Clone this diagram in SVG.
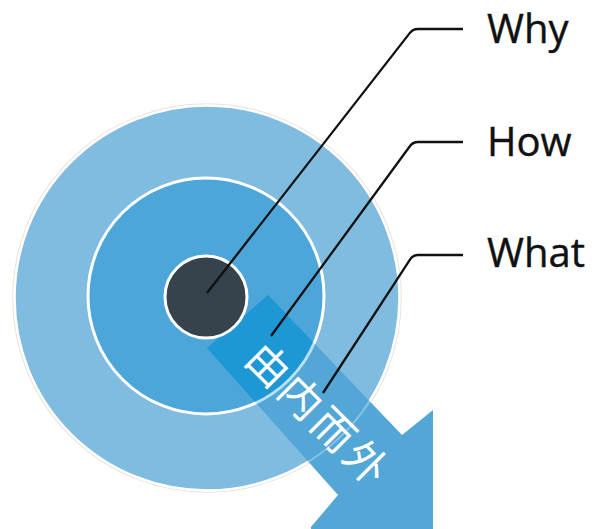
<svg xmlns="http://www.w3.org/2000/svg" width="598" height="529" viewBox="0 0 598 529">
  <style>
    .lbl { font-family: "Open Sans", "Liberation Sans", sans-serif; font-size: 40px; fill: #111111; stroke: #111111; stroke-width: 0.4px; }
    .lead { fill: none; stroke: #111111; stroke-width: 2.3; stroke-linejoin: round; }
    .cn { font-family: "Noto Sans CJK SC", "Noto Sans", sans-serif; font-size: 42px; fill: #ffffff; letter-spacing: 4px; }
  </style>
  <defs>
    <polygon id="arrowShape" points="268,295 402,435 433,410 433,529 311,529 311,527 338,495 207,348"/>
    <clipPath id="midInner"><circle cx="206" cy="296" r="117.5"/></clipPath>
    <clipPath id="midOuter"><circle cx="206" cy="296" r="120"/></clipPath>
  </defs>
  <rect width="598" height="529" fill="#ffffff"/>

  <g id="outer-circle">
    <circle cx="207" cy="298" r="194" fill="none" stroke="#ece2d9" stroke-width="1.5"/>
    <circle cx="207" cy="298" r="192.5" fill="#80bce0" stroke="#ffffff" stroke-width="2.5"/>
  </g>

  <g id="arrow">
    <use href="#arrowShape" fill="#53a7d7"/>
    <circle cx="207" cy="298" r="192.5" fill="none" stroke="#ffffff" stroke-opacity="0.3" stroke-width="2"/>
  </g>

  <g id="middle-circle">
    <circle cx="206" cy="296" r="118" fill="#4ca6d9"/>
    <use href="#arrowShape" fill="#1f98d4" clip-path="url(#midInner)"/>
    <circle cx="206" cy="296" r="118" fill="none" stroke="#ffffff" stroke-width="3"/>
    <use href="#arrowShape" fill="#1f98d4" fill-opacity="0.3" clip-path="url(#midOuter)"/>
  </g>

  <g id="inner-circle">
    <circle cx="206" cy="297" r="41" fill="#37434c" stroke="#ffffff" stroke-width="3"/>
  </g>

  <g id="arrow-label">
    <text class="cn" transform="translate(317,414) rotate(45)" x="-90" y="15">由内而外</text>
  </g>

  <g id="connectors">
    <path class="lead" d="M207,293 L409.9,32.9 Q413,29 418,29 L463,29"/>
    <path class="lead" d="M271,336 L410,146 Q413,142 418,142 L463,142"/>
    <path class="lead" d="M323,393 L410.3,259.2 Q413,255 418,255 L463,255"/>
  </g>

  <g id="label-why"><text class="lbl" x="487" y="43">Why</text></g>
  <g id="label-how"><text class="lbl" x="487" y="156">How</text></g>
  <g id="label-what"><text class="lbl" x="487" y="267">What</text></g>
</svg>
